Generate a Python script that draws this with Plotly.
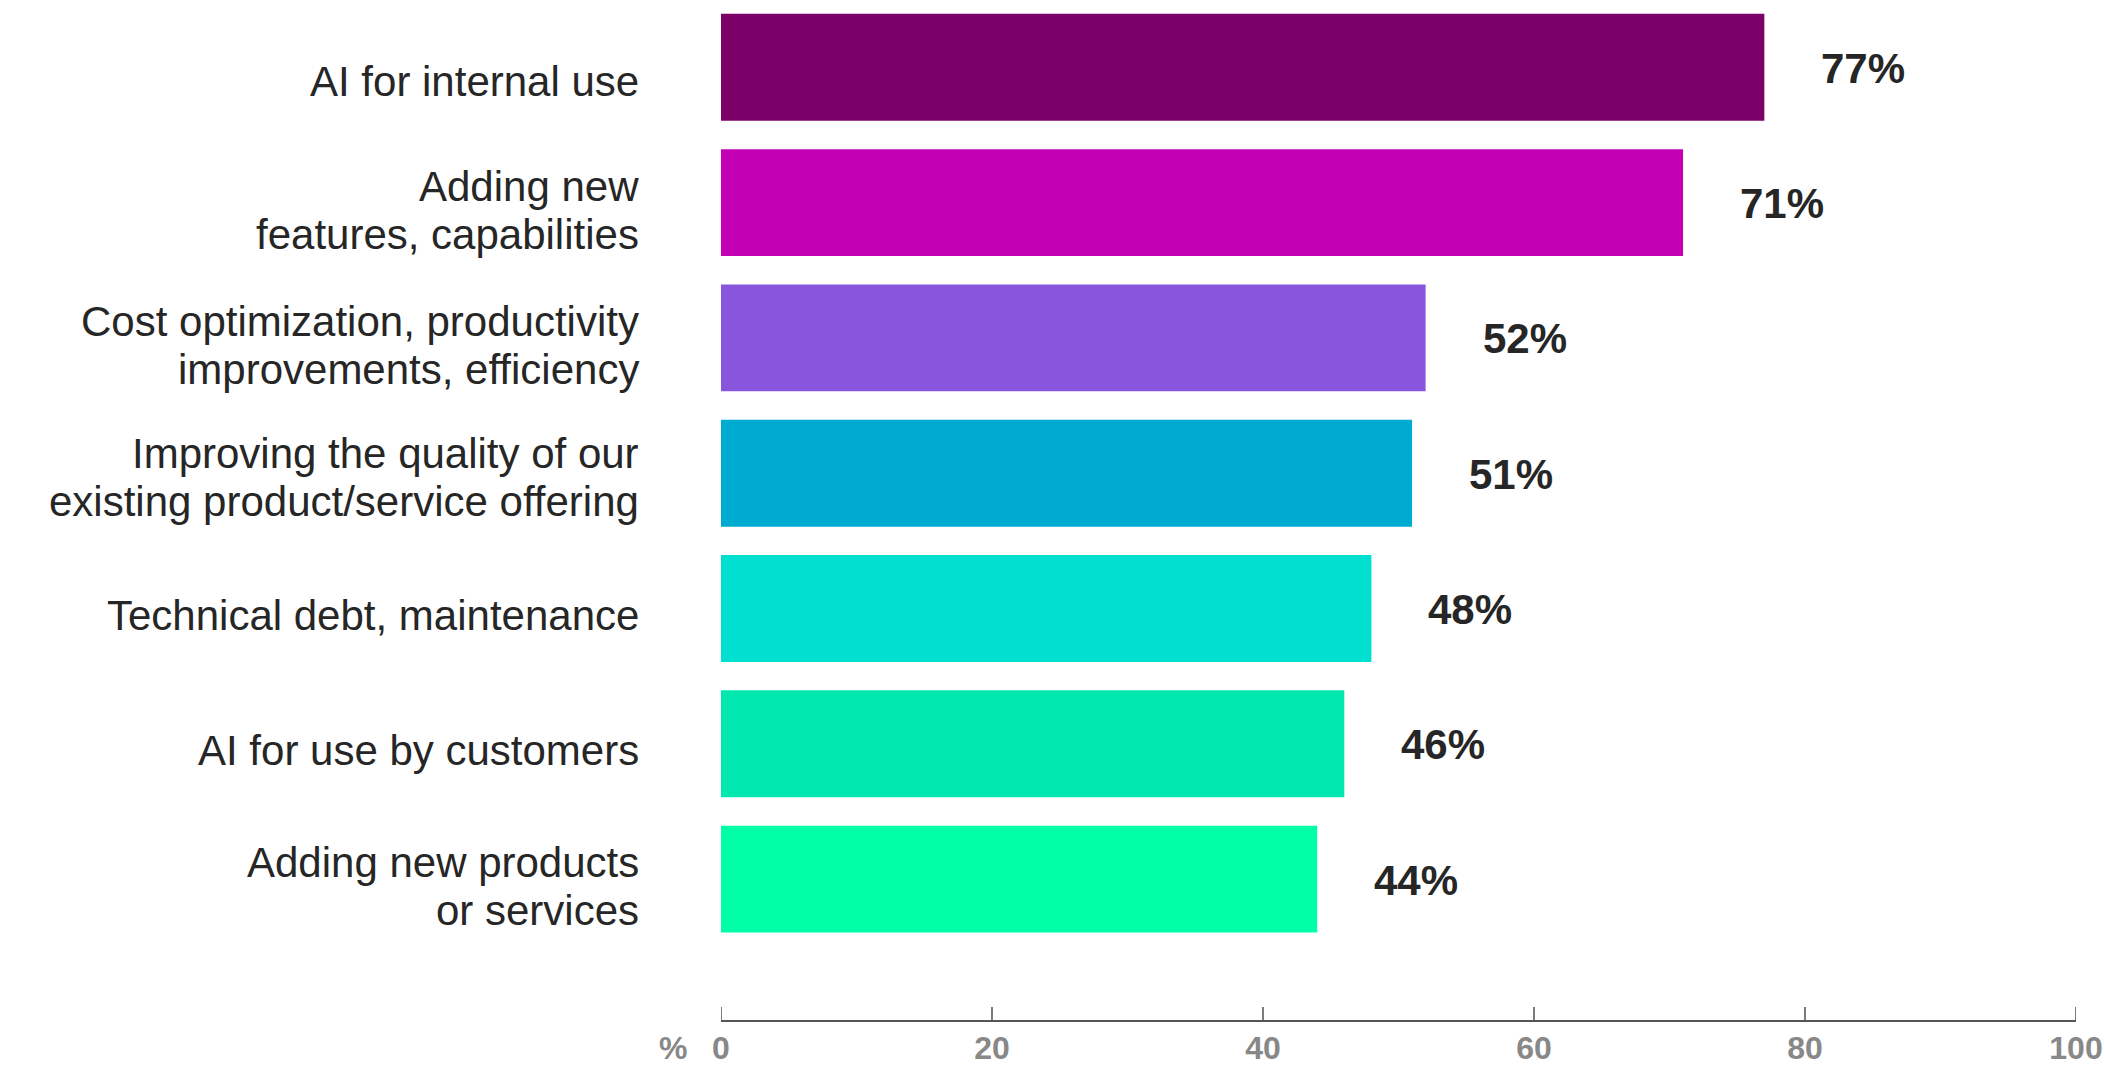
import plotly.graph_objects as go

# Survey results: areas of investment, share of respondents (%)
categories = [
    ["AI for internal use"],
    ["Adding new", "features, capabilities"],
    ["Cost optimization, productivity", "improvements, efficiency"],
    ["Improving the quality of our", "existing product/service offering"],
    ["Technical debt, maintenance"],
    ["AI for use by customers"],
    ["Adding new products", "or services"],
]
values = [77, 71, 52, 51, 48, 46, 44]
bar_colors = ["#7B0067", "#C400B5", "#8855DC", "#00ABD1", "#00DFD0", "#00E8B0", "#00FFA6"]
x_ticks = [0, 20, 40, 60, 80, 100]

TEXT = "#262626"
FONT = "Liberation Sans, Arial, sans-serif"

# small per-row vertical nudges (px) for the category labels
label_nudge = [0, 0, 0, 4, 7, 7, 1]

positions = list(range(len(values)))

fig = go.Figure(
    go.Bar(
        x=values,
        y=positions,
        orientation="h",
        width=0.79,
        marker=dict(color=bar_colors, line=dict(width=0)),
        hoverinfo="skip",
    )
)

annotations = []
for pos, (lines, val) in enumerate(zip(categories, values)):
    # category label, one annotation per line for tight line spacing
    if len(lines) == 1:
        shifts = [-14]
    else:
        shifts = [16, -32]
    for line, ys in zip(lines, shifts):
        annotations.append(dict(
            x=0, y=pos, xref="x", yref="y",
            text=line, showarrow=False,
            xanchor="right", yanchor="middle",
            xshift=-80, yshift=ys + label_nudge[pos],
            font=dict(family=FONT, size=42, color=TEXT),
        ))
    # value label to the right of the bar
    annotations.append(dict(
        x=val, y=pos, xref="x", yref="y",
        text=f"<b>{val}%</b>", showarrow=False,
        xanchor="left", yanchor="middle",
        xshift=55, yshift=-1,
        font=dict(family=FONT, size=42, color=TEXT),
    ))

# unit marker next to the x-axis tick labels
annotations.append(dict(
    x=0, y=0, xref="x", yref="paper",
    text="<b>%</b>", showarrow=False,
    xanchor="center", yanchor="top",
    xshift=-48, yshift=-8,
    font=dict(family=FONT, size=32, color="#888888"),
))

# tick marks rising from the axis line at every tick value
shapes = [
    dict(
        type="line", xref="x", yref="paper",
        x0=t, x1=t, y0=0, y1=13,
        ysizemode="pixel", yanchor=0,
        line=dict(color="#222222", width=1.2),
    )
    for t in x_ticks
]

fig.update_layout(
    width=2105,
    height=1069,
    margin=dict(l=721, r=29, t=0, b=49),
    paper_bgcolor="white",
    plot_bgcolor="white",
    showlegend=False,
    annotations=annotations,
    shapes=shapes,
    xaxis=dict(
        range=[0, 100],
        tickvals=x_ticks,
        ticktext=[f"<b>{t}</b>" for t in x_ticks],
        tickfont=dict(family=FONT, size=32, color="#888888"),
        ticks="",
        showline=True,
        linecolor="#555555",
        linewidth=2,
        showgrid=False,
        zeroline=False,
        fixedrange=True,
        automargin=False,
        ticklabelstandoff=-1,
    ),
    yaxis=dict(
        range=[7.0414, -0.4974],
        showticklabels=False,
        showgrid=False,
        zeroline=False,
        showline=False,
        ticks="",
        fixedrange=True,
        automargin=False,
    ),
)

fig.write_html("out.html")
